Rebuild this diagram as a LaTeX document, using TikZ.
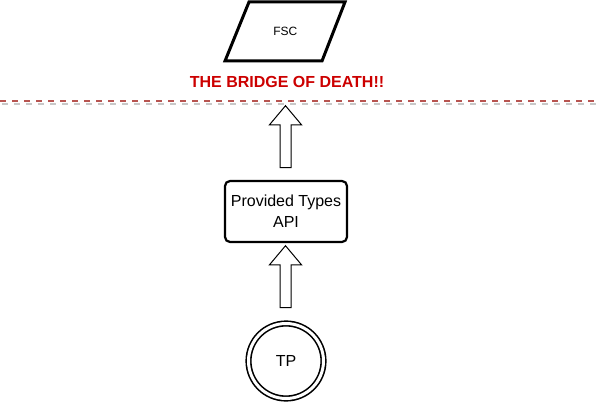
\documentclass[tikz,border=0pt]{standalone}
\usepackage{fontspec}
\setmainfont{Liberation Sans}
\usetikzlibrary{shapes.arrows}
\definecolor{cred}{HTML}{CC0000}
\definecolor{cdash}{HTML}{B85450}
\definecolor{cshadow}{HTML}{C8C8C8}
\tikzset{
  every picture/.style={x=1pt, y=-1pt},
  io/.style={line width=3pt, line join=miter},
  label/.style={inner sep=0pt, font=\fontsize{12}{14}\selectfont},
  box/.style={draw, rounded corners=5pt, line width=2.2pt, align=center, minimum width=122pt, minimum height=61pt,
    inner sep=2pt, font=\fontsize{16}{21}\selectfont},
  fat/.style={draw, fill=white, single arrow, rotate=90, minimum height=62pt, inner sep=5pt,
    single arrow head extend=10.5pt, single arrow tip angle=80, line width=1pt},
  term/.style={draw, circle, double, double distance=3pt, line width=1.6pt, minimum size=75pt, inner sep=0pt,
    font=\fontsize{16}{19}\selectfont},
  warn/.style={text=cred, font=\fontsize{16}{19}\selectfont\bfseries},
  bridge/.style={draw=cdash, line width=2pt, dash pattern=on 6pt off 6pt},
}
\begin{document}
\begin{tikzpicture}
  \useasboundingbox (0,0) rectangle (596,406);
  % parallelogram round FSC
  \draw[io] (225,61) -- (249,2) -- (345,2) -- (322,61) -- cycle;
  \node[label] (fsc) at (285.3,31) {FSC};
  \node[warn] (death) at (287,82) {THE BRIDGE OF DEATH!!};
  % the line everything has to cross
  \coordinate (bl) at (0,101);
  \coordinate (br) at (596,101);
  \draw[bridge, draw=cshadow] ([shift={(2,3)}]bl) -- ([shift={(2,3)}]br);
  \draw[bridge] (bl) -- (br);
  \node[box] (api) at (286,211.5) {Provided Types\\API};
  \node[term] (tp) at (286,361) {TP};
  \foreach \y/\n in {140/upper, 280/lower}
    \node[fat] (\n) at (285.5,\y) {};
\end{tikzpicture}
\end{document}
